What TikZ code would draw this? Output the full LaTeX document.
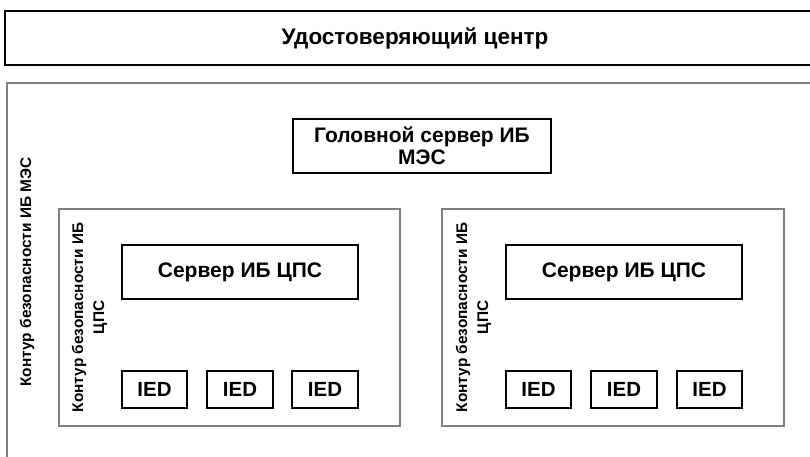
\documentclass[tikz,border=0pt]{standalone}
\usepackage{fontspec}
\setmainfont{Liberation Sans}
\begin{document}
\begin{tikzpicture}[x=1pt,y=-1pt,
  blk/.style={draw=black,line width=2.4pt,rectangle,inner sep=0pt,font=\bfseries\fontsize{21}{23}\selectfont,align=center},
  frame/.style={draw=black!50,line width=1.4pt,rectangle,inner sep=0pt},
  vlabel/.style={rotate=90,font=\bfseries\fontsize{15.4}{21}\selectfont,align=center,inner sep=0pt}]
\useasboundingbox (0,0) rectangle (810,457);
\clip (0,0) rectangle (810,457);
% top box
\node[blk,minimum width=820pt,minimum height=54pt,font=\bfseries\fontsize{22.5}{25}\selectfont] (ca) at (415,38) {Удостоверяющий центр};
% outer contour
\node[frame,minimum width=813pt,minimum height=387pt] (mes) at (413.5,276.5) {};
\node[vlabel,font=\bfseries\fontsize{15.4}{18}\selectfont] (meslbl) at (27,272) {Контур безопасности ИБ МЭС};
% head server
\node[blk,minimum width=258pt,minimum height=54pt,font=\bfseries\fontsize{21}{22}\selectfont] (head) at (422,146) {Головной сервер ИБ\\МЭС};
% left CPS contour
\node[frame,minimum width=341pt,minimum height=217pt] (cpsL) at (229.5,317.5) {};
\node[vlabel] (cpsLlbl) at (89.5,317.5) {Контур безопасности ИБ\\ЦПС};
\node[blk,minimum width=236pt,minimum height=54pt] (srvL) at (240,272) {Сервер ИБ ЦПС};
\node[blk,minimum width=65pt,minimum height=37pt,font=\bfseries\fontsize{20.5}{23}\selectfont] (iedL1) at (154.5,389.5) {IED};
\node[blk,minimum width=66pt,minimum height=37pt,font=\bfseries\fontsize{20.5}{23}\selectfont] (iedL2) at (240,389.5) {IED};
\node[blk,minimum width=66pt,minimum height=37pt,font=\bfseries\fontsize{20.5}{23}\selectfont] (iedL3) at (325,389.5) {IED};
% right CPS contour
\node[frame,minimum width=342pt,minimum height=217pt] (cpsR) at (613,317.5) {};
\node[vlabel] (cpsRlbl) at (473.5,317.5) {Контур безопасности ИБ\\ЦПС};
\node[blk,minimum width=236pt,minimum height=54pt] (srvR) at (624,272) {Сервер ИБ ЦПС};
\node[blk,minimum width=65pt,minimum height=37pt,font=\bfseries\fontsize{20.5}{23}\selectfont] (iedR1) at (538.5,389.5) {IED};
\node[blk,minimum width=66pt,minimum height=37pt,font=\bfseries\fontsize{20.5}{23}\selectfont] (iedR2) at (624,389.5) {IED};
\node[blk,minimum width=65pt,minimum height=37pt,font=\bfseries\fontsize{20.5}{23}\selectfont] (iedR3) at (709.5,389.5) {IED};
\end{tikzpicture}
\end{document}
